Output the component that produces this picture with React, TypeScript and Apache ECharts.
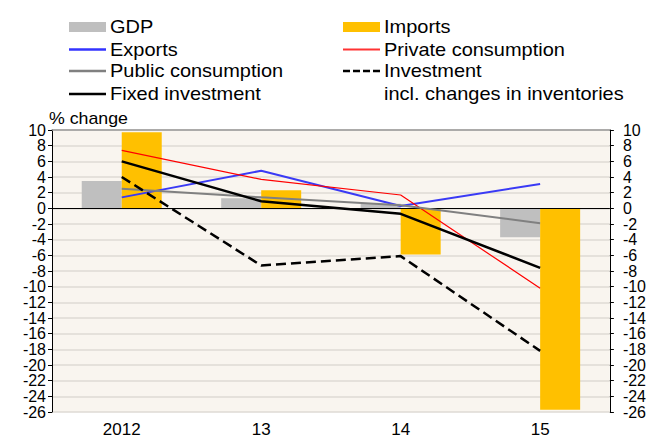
import React, { useEffect, useRef } from "react";
import * as echarts from "echarts";

const categories = ["2012", "13", "14", "15"];
const gdp = [3.5, 1.3, 0.6, -3.7];
const imports = [9.7, 2.3, -5.9, -25.7];
const exportsS = [1.4, 4.8, 0.3, 3.1];
const privateCons = [7.4, 3.7, 1.7, -10.2];
const publicCons = [2.5, 1.4, 0.4, -1.9];
const fixedInv = [6.0, 0.9, -0.7, -7.6];
const investInv = [4.0, -7.3, -6.1, -18.2];

const Y_MIN = -26;
const Y_MAX = 10;
const Y_STEP = 2;

const FONT = "Liberation Sans, Arial, sans-serif";

export default function App() {
  const ref = useRef<HTMLDivElement>(null);
  useEffect(() => {
    if (!ref.current) return;
    const chart = echarts.init(ref.current, null, { renderer: "svg" });
    // parity 0: labels -26,-22,...,10 ; parity 1: labels -24,-20,...,8
    const yAxisBase = (pos: "left" | "right", margin: number, parity: number, main: boolean) => ({
      type: "value",
      position: pos,
      min: Y_MIN,
      max: Y_MAX,
      interval: Y_STEP,
      axisLine: { show: main, lineStyle: { color: "#000", width: 1 } },
      axisTick: { show: main, length: 4, lineStyle: { color: "#000" } },
      axisLabel: {
        color: "#000",
        fontSize: 16,
        fontFamily: FONT,
        margin,
        showMinLabel: true,
        showMaxLabel: true,
        hideOverlap: false,
        align: pos === "left" ? "right" : "left",
        formatter: (v: number) => (Math.round((v - Y_MIN) / Y_STEP) % 2 === parity ? String(v) : ""),
      },
      splitLine: {
        show: pos === "left" && main,
        lineStyle: { color: "#DEDAD4", width: 1.5 },
      },
    });
    const lineSeries = (name: string, data: number[], color: string, width: number, type: string = "solid") => ({
      name,
      type: "line",
      data,
      symbol: "none",
      z: 5,
      lineStyle: { color, width, type },
      itemStyle: { color },
    });
    const txt = (x: number, y: number, text: string, size = 18) => ({
      type: "text",
      x,
      y,
      scaleX: 1.11,
      style: { text, fontSize: size, fontFamily: FONT, fill: "#000", textVerticalAlign: "middle" },
    });
    const leg = (x: number, y: number, kind: string, color: string, label: string, dashed = false, lw = 2.5) => {
      const icon =
        kind === "rect"
          ? { type: "rect", shape: { x, y: y - 5, width: 37, height: 10 }, style: { fill: color } }
          : {
              type: "line",
              shape: { x1: x, y1: y, x2: x + 37, y2: y },
              style: { stroke: color, lineWidth: lw, lineDash: dashed ? [7, 3] : null },
            };
      return [icon, txt(x + 41, y, label)];
    };
    chart.setOption({
      animation: false,
      grid: {
        left: 52,
        right: 34,
        top: 130,
        bottom: 23,
        show: true,
        backgroundColor: "#F9F5EF",
        borderWidth: 0,
      },
      xAxis: [
        {
          type: "category",
          data: categories,
          position: "bottom",
          axisLine: { show: false, onZero: false },
          axisTick: { show: false },
          axisLabel: { color: "#000", fontSize: 17, fontFamily: FONT, margin: 9 },
        },
        {
          type: "category",
          data: categories,
          position: "top",
          axisLine: { show: true, onZero: false, lineStyle: { color: "#999", width: 1.5 } },
          axisTick: { show: false },
          axisLabel: { show: false },
        },
      ],
      yAxis: [
        yAxisBase("left", 6, 0, true),
        yAxisBase("left", 6, 1, false),
        yAxisBase("right", 13, 0, true),
        yAxisBase("right", 13, 1, false),
      ],
      graphic: [
        ...leg(69, 27, "rect", "#BFBFBF", "GDP"),
        ...leg(69, 49.5, "line", "#3333FF", "Exports"),
        ...leg(69, 71, "line", "#808080", "Public consumption"),
        ...leg(69, 94, "line", "#000000", "Fixed investment"),
        ...leg(343, 27, "rect", "#FFC000", "Imports"),
        ...leg(343, 49.5, "line", "#FF3333", "Private consumption", false, 2),
        ...leg(343, 71, "line", "#000000", "Investment", true),
        txt(384, 94, "incl. changes in inventories"),
        txt(49, 119, "% change", 16),
      ],
      series: [
        {
          name: "GDP",
          type: "bar",
          data: gdp,
          barWidth: 40,
          barGap: "0%",
          itemStyle: { color: "#BFBFBF" },
          markLine: {
            silent: true,
            symbol: "none",
            label: { show: false },
            lineStyle: { color: "#000", width: 1, type: "solid" },
            data: [{ yAxis: 0 }],
            z: 4,
          },
        },
        {
          name: "Imports",
          type: "bar",
          data: imports,
          barWidth: 40,
          barGap: "0%",
          itemStyle: { color: "#FFC000" },
        },
        lineSeries("Exports", exportsS, "#3A3AF5", 2),
        lineSeries("Private consumption", privateCons, "#FF0000", 1.2),
        lineSeries("Public consumption", publicCons, "#808080", 2),
        lineSeries("Fixed investment", fixedInv, "#000000", 2.5),
        lineSeries("Investment incl. changes in inventories", investInv, "#000000", 2.5, "dashed"),
      ],
    });
    return () => chart.dispose();
  }, []);
  return <div ref={ref} style={{ position: "absolute", left: 0, top: 0, width: 649, height: 438 }} />;
}
